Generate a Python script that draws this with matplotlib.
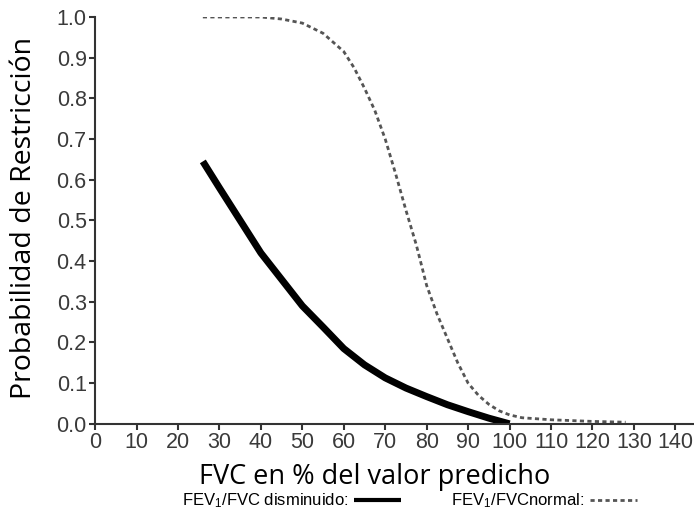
import matplotlib
matplotlib.use("Agg")
import matplotlib.pyplot as plt

# curve readings from the reference picture
fvc_dism = [26, 30, 35, 40, 45, 50, 55, 60, 65, 70, 75, 80, 85, 90, 95, 100]
prob_dism = [0.645, 0.58, 0.50, 0.42, 0.355, 0.29, 0.238, 0.185, 0.145,
             0.113, 0.088, 0.067, 0.047, 0.030, 0.014, 0.0]

fvc_norm = [26, 30, 35, 40, 45, 50, 55, 60, 62.5, 65, 67.5, 70, 72.5, 75,
            77.5, 80, 82.5, 85, 87.5, 90, 92.5, 95, 97.5, 100, 103, 110,
            120, 128]
prob_norm = [1.0, 1.0, 1.0, 1.0, 0.995, 0.985, 0.96, 0.915, 0.875, 0.825,
             0.77, 0.70, 0.615, 0.525, 0.44, 0.34, 0.27, 0.21, 0.15, 0.10,
             0.07, 0.048, 0.032, 0.022, 0.015, 0.010, 0.006, 0.004]

x_ticks = list(range(0, 141, 10))
y_ticks = [i / 10 for i in range(11)]

plt.rcParams['mathtext.default'] = 'regular'

fig = plt.figure(figsize=(6.94, 5.15), dpi=100)
ax = fig.add_axes([0.137, 0.177, 0.863, 0.790])

ax.plot(fvc_dism, prob_dism, color='black', lw=5, solid_capstyle='butt',
        label='FEV$_1$/FVC disminuido:')
ax.plot(fvc_norm, prob_norm, color='#555555', lw=2, linestyle=(0, (1.5, 1.2)),
        label='FEV$_1$/FVCnormal:')

ax.set_xlim(0, 144.5)
ax.set_ylim(0, 1.0)
ax.set_xticks(x_ticks)
ax.set_yticks(y_ticks)
ax.set_yticklabels([f'{v:.1f}' for v in y_ticks])

for s in ['top', 'right']:
    ax.spines[s].set_visible(False)
for s in ['left', 'bottom']:
    ax.spines[s].set_linewidth(1.5)
    ax.spines[s].set_color('#333333')

ax.tick_params(direction='out', length=4, width=1.5, color='#333333',
               labelcolor='#3a3a3a', labelsize=15.5, pad=2)
for lbl in ax.get_xticklabels() + ax.get_yticklabels():
    lbl.set_fontfamily('Liberation Sans')

ax.set_xlabel('FVC en % del valor predicho', fontsize=19.5, family='Open Sans')
ax.xaxis.set_label_coords(0.467, -0.097)
ax.set_ylabel('Probabilidad de Restricción', fontsize=20.5, family='Open Sans')
ax.yaxis.set_label_coords(-0.095, 0.505)

leg = fig.legend(loc='center', bbox_to_anchor=(0.59, 0.027), ncol=2,
                 frameon=False, markerfirst=False, handlelength=2.8,
                 columnspacing=3.0, handletextpad=0.35, borderpad=0,
                 prop={'family': 'Liberation Sans', 'size': 12})
for h in leg.legend_handles:
    h.set_linewidth(3 if h.get_color() == 'black' else 2)

fig.savefig('out.png', dpi=100)
